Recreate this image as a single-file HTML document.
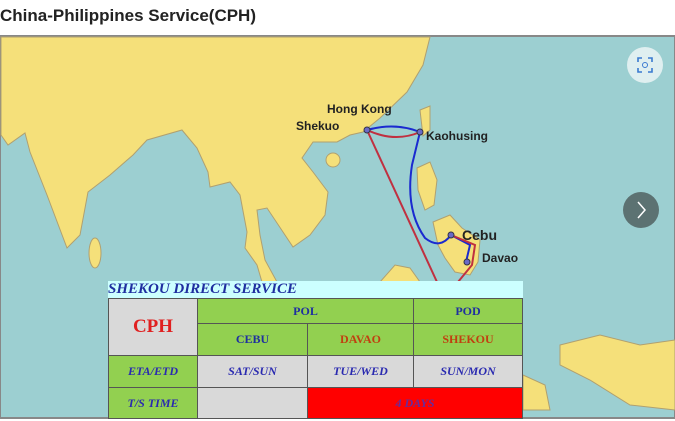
<!DOCTYPE html>
<html><head><meta charset="utf-8"><style>
body{margin:0;width:675px;height:421px;overflow:hidden;background:#fff;font-family:"Liberation Sans",sans-serif;position:relative}
.t{position:absolute;left:0;top:6px;font-size:17px;font-weight:bold;color:#222}
svg{position:absolute;left:0;top:0}
table{position:absolute;left:108px;top:298px;border-collapse:collapse;width:415px;font-family:"Liberation Serif",serif;font-weight:bold;font-size:12px;text-align:center}
td{border:1px solid #555;padding:0}
.g{background:#92d050}.l{background:#d9d9d9}
.hd{position:absolute;left:108px;top:281px;width:415px;height:17px;background:#ccffff;font-family:"Liberation Serif",serif;font-style:italic;font-weight:bold;color:#1f2fa0;font-size:15px;line-height:17px}
.i{font-style:italic;color:#2a2ab0}
</style></head><body>
<div class="t">China-Philippines Service(CPH)</div>
<svg width="675" height="421">
<rect x="0" y="36" width="675" height="382" fill="#9ccfd1" stroke="#888" stroke-width="2"/>
<g fill="#f5e07a" stroke="#b0a070" stroke-width="1">
<path d="M1,37 L430,37 L423,65 L407,92 L380,118 L363,132 L350,135 L337,142 L313,142 L302,158 L313,172 L328,192 L325,215 L310,235 L293,247 L283,232 L267,208 L257,210 L260,235 L265,260 L277,282 L262,282 L257,265 L245,248 L247,232 L240,195 L230,182 L210,187 L208,172 L197,148 L182,130 L147,140 L133,155 L110,175 L88,192 L80,235 L67,248 L47,195 L30,152 L25,133 L8,145 L1,135 Z"/>
<ellipse cx="95" cy="253" rx="6" ry="15"/>
<ellipse cx="333" cy="160" rx="7" ry="7"/>
<path d="M420,110 L430,106 L430,130 L423,136 Z"/>
<path d="M417,168 L430,162 L437,180 L434,205 L425,210 L418,190 Z"/>
<path d="M433,222 L450,215 L462,228 L480,240 L478,262 L470,275 L455,272 L445,258 L438,245 Z"/>
<path d="M380,282 L395,265 L410,268 L420,282 Z"/>
<path d="M560,345 L600,335 L640,345 L675,340 L675,410 L630,405 L590,380 L560,365 Z"/>
<path d="M523,375 L545,385 L550,410 L523,410 Z"/>
</g>
<g fill="none" stroke-width="2">
<path d="M367,130 Q395,122 420,132 L412,165 Q405,210 425,238 Q440,250 451,235" stroke="#1a2ad0"/>
<path d="M451,235 L470,245 L466,262" stroke="#1a2ad0"/>
<path d="M367,130 Q395,143 420,132" stroke="#c03040"/>
<path d="M367,130 L437,282" stroke="#c03040"/>
<path d="M451,235 L475,245 L472,265 L458,282" stroke="#c03040"/>
</g>
<g fill="#6a6ac8" stroke="#334" stroke-width="1"><circle cx="367" cy="130" r="3"/><circle cx="420" cy="132" r="3"/><circle cx="451" cy="235" r="3"/><circle cx="467" cy="262" r="3"/></g>
<g font-family="Liberation Sans" font-weight="bold" font-size="12" fill="#222">
<text x="327" y="113">Hong Kong</text><text x="296" y="130">Shekuo</text>
<text x="426" y="140">Kaohusing</text><text x="462" y="240" font-size="14">Cebu</text><text x="482" y="262">Davao</text>
</g>
<circle cx="645" cy="65" r="18" fill="#dfeff0"/>
<path d="M638,62v-4h4M652,62v-4h-4M638,68v4h4M652,68v4h-4" stroke="#3a7ad0" stroke-width="1.6" fill="none"/>
<circle cx="645" cy="65" r="2.5" stroke="#3a7ad0" fill="none"/>
<circle cx="641" cy="210" r="18" fill="#5c7272"/>
<path d="M638,202l7,8l-7,8" stroke="#fff" stroke-width="1.5" fill="none"/>
</svg>
<div class="hd">SHEKOU DIRECT SERVICE</div>
<table>
<tr style="height:25px"><td class="l" rowspan="2" style="width:88px;color:#e02020;font-size:19px">CPH</td><td class="g" colspan="2" style="color:#1f2fa0">POL</td><td class="g" style="color:#1f2fa0;width:108px">POD</td></tr>
<tr style="height:32px"><td class="g" style="color:#1f2fa0;width:109px">CEBU</td><td class="g" style="color:#c04010;width:105px">DAVAO</td><td class="g" style="color:#c04010">SHEKOU</td></tr>
<tr style="height:32px"><td class="g i">ETA/ETD</td><td class="l i">SAT/SUN</td><td class="l i">TUE/WED</td><td class="l i">SUN/MON</td></tr>
<tr style="height:31px"><td class="g i">T/S TIME</td><td class="l"></td><td colspan="2" style="background:#ff0000;color:#6a2a9a;font-style:italic">4 DAYS</td></tr>
</table>
</body></html>
